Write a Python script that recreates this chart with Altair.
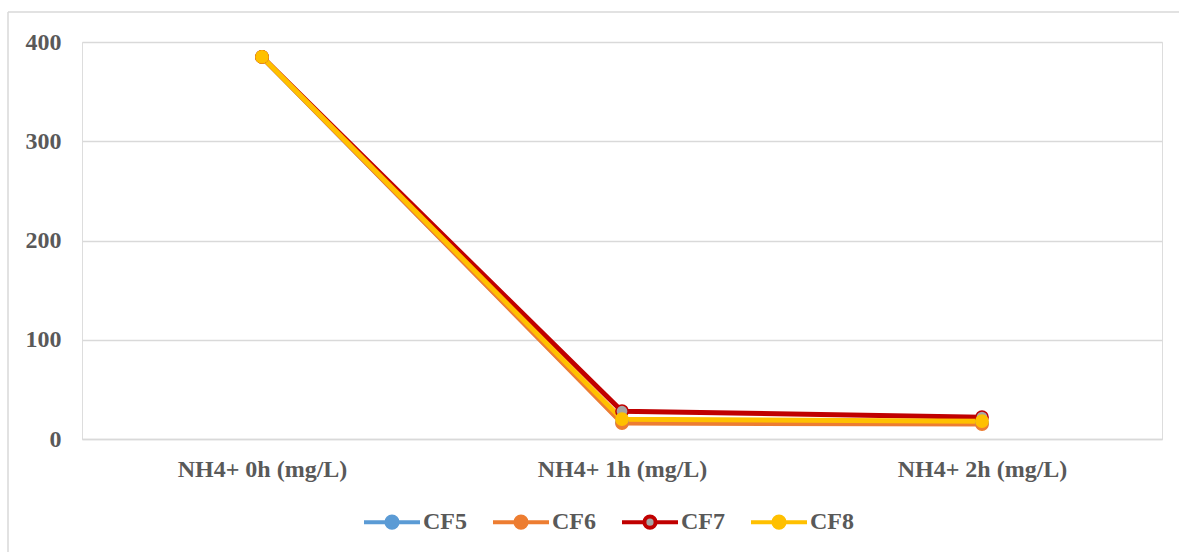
import altair as alt
import pandas as pd

categories = ["NH4+ 0h (mg/L)", "NH4+ 1h (mg/L)", "NH4+ 2h (mg/L)"]
series = ["CF5", "CF6", "CF7", "CF8"]
cf5 = [385, 17, 16]
cf6 = [385, 16, 15]
cf7 = [385, 28, 22]
cf8 = [385, 20, 18]
y_ticks = [0, 100, 200, 300, 400]

line_colors = ["#5B9BD5", "#ED7D31", "#C00000", "#FFC000"]
fill_colors = ["#5B9BD5", "#ED7D31", "#A5A5A5", "#FFC000"]

rows = []
for name, vals in zip(series, [cf5, cf6, cf7, cf8]):
    for c, v in zip(categories, vals):
        rows.append({"category": c, "series": name, "value": v})
df = pd.DataFrame(rows)

FONT = "Liberation Serif"
TXT = "#595959"
FS = 24

x = alt.X("category:N", sort=categories, title=None,
          scale=alt.Scale(paddingInner=0, paddingOuter=0.5),
          axis=alt.Axis(labelAngle=0, labelFont=FONT, labelFontSize=FS,
                        labelFontWeight="bold", labelColor=TXT, labelPadding=18,
                        ticks=False, domain=True, domainColor="#D9D9D9",
                        domainWidth=1.5, grid=False))
y = alt.Y("value:Q", title=None,
          scale=alt.Scale(domain=[0, 400], nice=False),
          axis=alt.Axis(values=y_ticks, labelFont=FONT, labelFontSize=FS,
                        labelFontWeight="bold", labelColor=TXT, labelPadding=21,
                        ticks=False, domain=False, gridColor="#D9D9D9",
                        gridWidth=1.5))

legend_path = ("M-1,0H-0.2M0.2,0H1M-0.2,0a0.2,0.2 0 1,0 0.4,0"
               "a0.2,0.2 0 1,0 -0.4,0")

def make_legend():
    return alt.Legend(title=None, orient="none", direction="horizontal",
                      columns=4, legendX=280, legendY=450,
                      symbolType=legend_path, symbolSize=3136,
                      symbolStrokeWidth=4, labelFont=FONT,
                      labelFontSize=FS, labelFontWeight="bold",
                      labelColor=TXT, labelOffset=1,
                      columnPadding=18)

stroke = alt.Stroke("series:N", sort=series,
                    scale=alt.Scale(domain=series, range=line_colors),
                    legend=make_legend())
fill = alt.Fill("series:N", sort=series,
                scale=alt.Scale(domain=series, range=fill_colors),
                legend=make_legend())

base = alt.Chart(df)
lines = base.mark_line(strokeWidth=5).encode(x=x, y=y, stroke=stroke,
                                             detail="series:N", order=alt.Order("series:N"))
points = base.mark_point(filled=False, size=150, strokeWidth=1.5, opacity=1).encode(
    x=x, y=y, stroke=stroke, fill=fill)

frame_df = pd.DataFrame({"k": [0]})
top_rule = alt.Chart(frame_df).mark_rule(color="#D9D9D9", strokeWidth=1.5).encode(
    x=alt.value(-74), x2=alt.value(1100), y=alt.value(-30))
left_rule = alt.Chart(frame_df).mark_rule(color="#D9D9D9", strokeWidth=1.5).encode(
    x=alt.value(-74), y=alt.value(-30), y2=alt.value(520))

chart = alt.layer(top_rule, left_rule, lines, points).properties(
    width=1080, height=397,
    autosize=alt.AutoSizeParams(type="none"),
    padding={"left": 82, "top": 42, "right": 17, "bottom": 113},
).configure_view(stroke=None).configure(background="white")

chart.save("out.html", embed_options={"renderer": "svg", "actions": False})
